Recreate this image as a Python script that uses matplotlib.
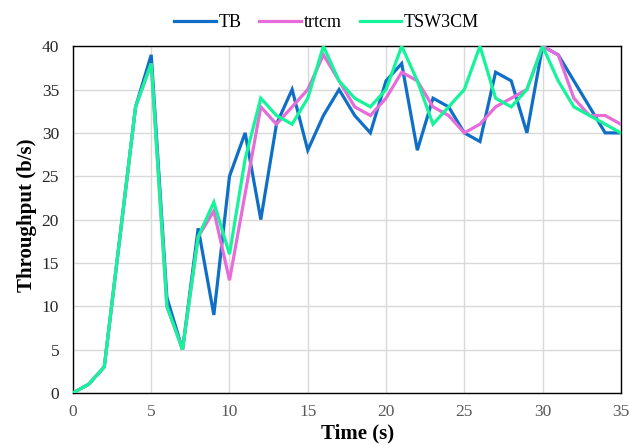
import matplotlib
matplotlib.use("Agg")
import matplotlib.pyplot as plt

time_s = list(range(0, 36))
tb = [0, 1, 3, 18, 33, 39, 11, 5, 19, 9, 25, 30, 20, 31, 35, 28, 32, 35, 32, 30,
      36, 38, 28, 34, 33, 30, 29, 37, 36, 30, 40, 39, 36, 33, 30, 30]
trtcm = [0, 1, 3, 18, 33, 38, 10, 5, 18, 21, 13, 23, 33, 31, 33, 35, 39, 36, 33, 32,
         34, 37, 36, 33, 32, 30, 31, 33, 34, 35, 40, 39, 34, 32, 32, 31]
tsw3cm = [0, 1, 3, 18, 33, 38, 10, 5, 18, 22, 16, 27, 34, 32, 31, 34, 40, 36, 34, 33,
          35, 40, 36, 31, 33, 35, 40, 34, 33, 35, 40, 36, 33, 32, 31, 30]
series_names = ["TB", "trtcm", "TSW3CM"]
x_ticks = [0, 5, 10, 15, 20, 25, 30, 35]
y_ticks = [0, 5, 10, 15, 20, 25, 30, 35, 40]

plt.rcParams['font.family'] = ['Liberation Serif', 'DejaVu Serif']

fig = plt.figure(figsize=(6.29, 4.44), dpi=100)
ax = fig.add_axes([0.116, 0.115, 0.871, 0.781])

colors = ['#0F6FC6', '#E66CDA', '#14F49A']
for vals, name, c in zip([tb, trtcm, tsw3cm], series_names, colors):
    ax.plot(time_s, vals, color=c, lw=2.3, label=name, solid_joinstyle='miter', zorder=3)

ax.set_xlim(0, 35)
ax.set_ylim(0, 40)
ax.set_xticks(x_ticks)
ax.set_yticks(y_ticks)
ax.grid(True, color='#D9D9D9', lw=1.0, zorder=0)
ax.set_axisbelow(True)
for s in ax.spines.values():
    s.set_color('black')
    s.set_linewidth(1.0)
ax.tick_params(axis='both', length=0, labelsize=12.5)
ax.tick_params(axis='x', colors='#595959', pad=8)
ax.tick_params(axis='y', labelcolor='#262626', pad=10)
ax.set_xlabel('Time (s)', fontsize=15, fontweight='bold')
ax.set_ylabel('Throughput (b/s)', fontsize=15, fontweight='bold')
ax.xaxis.set_label_coords(0.52, -0.118, transform=ax.transAxes)
ax.yaxis.set_label_coords(-0.084, 0.513, transform=ax.transAxes)
ax.xaxis.label.set_va('center')
ax.yaxis.label.set_va('center')

ax.legend(loc='lower center', bbox_to_anchor=(0.463, 1.022), ncol=3, frameon=False,
          fontsize=13, handlelength=2.3, columnspacing=1.0, handletextpad=0.15,
          borderaxespad=0)

fig.savefig('out.png', dpi=100)
